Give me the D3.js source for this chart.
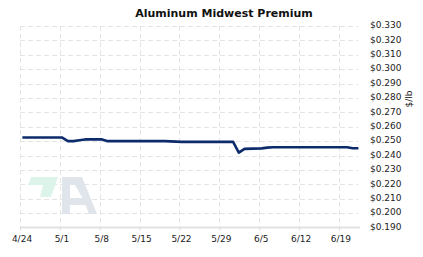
<!DOCTYPE html>
<html>
<head>
<meta charset="utf-8">
<script src="https://cdn.jsdelivr.net/npm/d3@7"></script>
<style>
    body { margin: 0; background: #fff; }
    text { font-family: "DejaVu Sans", Verdana, sans-serif; }
</style>
</head>
<body>
<svg id="chart" width="423" height="257"></svg>
<script>
// data
const dates = ["2023-04-24", "2023-04-25", "2023-04-26", "2023-04-27", "2023-04-28",
    "2023-05-01", "2023-05-02", "2023-05-03", "2023-05-04", "2023-05-05",
    "2023-05-08", "2023-05-09", "2023-05-10", "2023-05-11", "2023-05-12",
    "2023-05-15", "2023-05-16", "2023-05-17", "2023-05-18", "2023-05-19",
    "2023-05-22", "2023-05-23", "2023-05-24", "2023-05-25", "2023-05-26",
    "2023-05-30", "2023-05-31", "2023-06-01", "2023-06-02",
    "2023-06-05", "2023-06-06", "2023-06-07", "2023-06-08", "2023-06-09",
    "2023-06-12", "2023-06-13", "2023-06-14", "2023-06-15", "2023-06-16",
    "2023-06-20", "2023-06-21", "2023-06-22"];
const prices = [0.2525, 0.2525, 0.2525, 0.2525, 0.2525,
    0.2525, 0.2500, 0.2500, 0.2506, 0.2512,
    0.2512, 0.2500, 0.2500, 0.2500, 0.2500,
    0.2500, 0.2500, 0.2500, 0.2500, 0.2500,
    0.2495, 0.2495, 0.2495, 0.2495, 0.2495,
    0.2495, 0.2495, 0.2420, 0.2446,
    0.2450, 0.2455, 0.2458, 0.2458, 0.2458,
    0.2458, 0.2458, 0.2458, 0.2458, 0.2458,
    0.2458, 0.2451, 0.2451];
const xTicks = ["2023-04-24", "2023-05-01", "2023-05-08", "2023-05-15", "2023-05-22",
    "2023-05-29", "2023-06-05", "2023-06-12", "2023-06-19"];
const yTicks = [0.19, 0.20, 0.21, 0.22, 0.23, 0.24, 0.25, 0.26, 0.27, 0.28, 0.29, 0.30, 0.31, 0.32, 0.33];

const parse = d3.timeParse("%Y-%m-%d");
const series = dates.map((d, i) => ({ date: d3.timeHour.offset(parse(d), 10), value: prices[i] }));

const svg = d3.select("#chart");

const plotLeft = 20, plotRight = 358, plotTop = 26, plotBottom = 227.5;

const x = d3.scaleTime()
    .domain([parse("2023-04-24"), parse("2023-06-23")])
    .range([plotLeft, plotLeft + 60 * 5.696]);

const y = d3.scaleLinear()
    .domain([0.19, 0.33])
    .range([plotBottom, plotTop]);

// title
svg.append("text")
    .attr("x", 224)
    .attr("y", 17)
    .attr("text-anchor", "middle")
    .attr("font-size", "11px")
    .attr("font-weight", "bold")
    .attr("fill", "#111")
    .text("Aluminum Midwest Premium");

// horizontal grid
svg.append("g")
    .selectAll("line")
    .data(yTicks.slice(1))
    .enter()
    .append("line")
    .attr("x1", plotLeft)
    .attr("x2", plotRight)
    .attr("y1", d => Math.round(y(d)) + 0.5)
    .attr("y2", d => Math.round(y(d)) + 0.5)
    .attr("stroke", "#e4e4e4")
    .attr("stroke-dasharray", "5,3");

// vertical grid
svg.append("g")
    .selectAll("line")
    .data(xTicks)
    .enter()
    .append("line")
    .attr("x1", d => Math.round(x(parse(d))) + 0.5)
    .attr("x2", d => Math.round(x(parse(d))) + 0.5)
    .attr("y1", plotTop)
    .attr("y2", plotBottom)
    .attr("stroke", "#e4e4e4")
    .attr("stroke-dasharray", "5,3");

// watermark logo
const logo = svg.append("g").attr("class", "logo");
logo.append("path")
    .attr("d", "M31,177 L58,177 L51,197 L40,197 L43,185 L28,185 Z")
    .attr("fill", "#dcf4ea");
logo.append("path")
    .attr("d", "M62,214 L62,177 L82,177 L97,214 L89,214 L85.5,205 L70,205 L70,214 Z M70,185 L75,185 L82.5,198 L70,198 Z")
    .attr("fill-rule", "evenodd")
    .attr("fill", "#e0e4eb");

// bottom axis
const xAxis = svg.append("g")
    .attr("transform", "translate(0," + plotBottom + ")")
    .call(d3.axisBottom(x)
        .tickValues(xTicks.map(parse))
        .tickSize(3)
        .tickFormat(d3.timeFormat("%-m/%-d")));
xAxis.select(".domain")
    .attr("d", "M" + plotLeft + ",0H" + 360)
    .attr("stroke", "#e2e2e2")
    .attr("stroke-width", 2);
xAxis.selectAll(".tick line").attr("stroke", "#dcdcdc");
xAxis.selectAll(".tick text")
    .attr("dx", "1.5")
    .attr("y", 8)
    .attr("font-family", "DejaVu Sans, Verdana, sans-serif")
    .attr("font-size", "9px")
    .attr("fill", "#222");

// right value labels
const yAxis = svg.append("g")
    .attr("transform", "translate(366,0)")
    .call(d3.axisRight(y)
        .tickValues(yTicks)
        .tickSize(0)
        .tickFormat(d => "$" + d3.format(".3f")(d)));
yAxis.select(".domain").remove();
yAxis.selectAll(".tick text")
    .attr("x", 4)
    .attr("dy", "0.2em")
    .attr("font-family", "DejaVu Sans, Verdana, sans-serif")
    .attr("font-size", "9px")
    .attr("fill", "#222");

// unit label
svg.append("text")
    .attr("transform", "translate(412,99) rotate(-90)")
    .attr("text-anchor", "middle")
    .attr("font-size", "9px")
    .attr("fill", "#222")
    .text("$/lb");

// price line
const line = d3.line()
    .x(d => x(d.date))
    .y(d => y(d.value));

svg.append("path")
    .datum(series)
    .attr("d", line)
    .attr("fill", "none")
    .attr("stroke", "#0b2b6b")
    .attr("stroke-width", 2.6)
    .attr("stroke-linejoin", "round");
</script>
</body>
</html>
